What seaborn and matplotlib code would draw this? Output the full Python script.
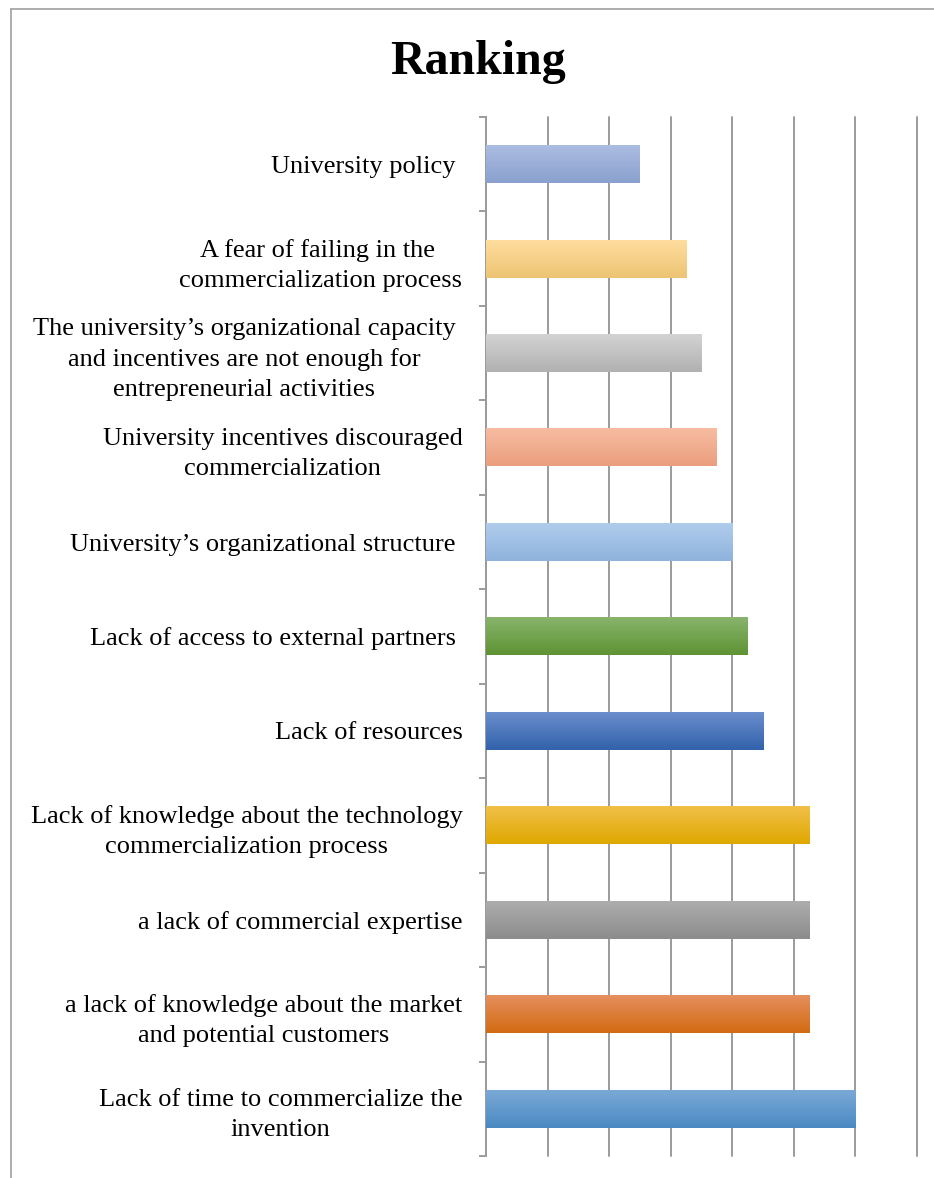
import numpy as np
import pandas as pd
import matplotlib
matplotlib.use("Agg")
import matplotlib.pyplot as plt
from matplotlib.colors import to_rgb
from matplotlib.lines import Line2D
import seaborn as sns

# Barriers to commercialization, listed top to bottom
categories = [
    "University policy ",
    "A fear of failing in the \ncommercialization process",
    "The university\u2019s organizational capacity \nand incentives are not enough for \nentrepreneurial activities ",
    "University incentives discouraged\ncommercialization",
    "University\u2019s organizational structure ",
    "Lack of access to external partners ",
    "Lack of resources",
    "Lack of knowledge about the technology\ncommercialization process",
    "a lack of commercial expertise",
    "a lack of knowledge about the market\nand potential customers",
    "Lack of time to commercialize the\ninvention",
]
scores = [2.5, 3.25, 3.5, 3.75, 4.0, 4.25, 4.5, 5.25, 5.25, 5.25, 6.0]

# (top, bottom) shades of each bar's vertical gradient
top_colors = ["#ACBDE2", "#FFDD9E", "#D3D3D3", "#F7BCA2", "#B0CCEC",
              "#88B46C", "#6B8ECC", "#F0C048", "#ADADAD", "#E5905E", "#7AA9D6"]
bottom_colors = ["#8AA0CE", "#EDC474", "#B1B1B1", "#EA9E7E", "#8FB3DD",
                 "#5E9334", "#3262AB", "#DFA800", "#8C8C8C", "#D26A12", "#4A89C2"]
mid_colors = ["#9DB0DA", "#FBD68A", "#C6C6C6", "#F4AF92", "#A3C2E6",
              "#70A845", "#4076C2", "#F0BC00", "#A2A2A2", "#E07B24", "#5C9BD5"]

df = pd.DataFrame({"category": categories, "score": scores})

sns.set_theme(style="white")
plt.rcParams["font.family"] = ["Liberation Serif", "DejaVu Serif"]
plt.rcParams["text.color"] = "black"
plt.rcParams["ytick.labelcolor"] = "black"

W, H = 934, 1178
fig = plt.figure(figsize=(W / 100, H / 100), dpi=100)
ax = fig.add_axes([486 / W, 1 - 1156 / H, (917 - 486) / W, (1156 - 117) / H])

sns.barplot(data=df, x="score", y="category", hue="category",
            palette=mid_colors, width=0.4, legend=False, ax=ax,
            orient="h", saturation=1)

# vertical gradient fill for every bar
for patch, c_top, c_bot in zip(ax.patches, top_colors, bottom_colors):
    x0 = patch.get_x()
    w = patch.get_width()
    y0 = patch.get_y()
    h = patch.get_height()
    t = np.linspace(0, 1, 64)[:, None]
    grad = (1 - t) * np.array(to_rgb(c_top)) + t * np.array(to_rgb(c_bot))
    grad = grad[:, None, :].repeat(2, axis=1)
    ax.imshow(grad, extent=(x0, x0 + w, y0 + h, y0), origin="upper",
              aspect="auto", zorder=3, interpolation="bilinear")
    patch.set_alpha(0)

ax.set_xlim(0, 7)
ax.set_ylim(len(categories) - 0.5, -0.5)
ax.set_xticks(np.arange(0, 8))
ax.set_xticklabels([])
ax.tick_params(axis="x", length=0)
ax.grid(axis="x", color="#9B9B9B", linewidth=1.4, zorder=0)
for gl in ax.get_xgridlines():
    gl.set_clip_on(False)
ax.set_axisbelow(True)

ax.set_yticks(np.arange(len(categories)))
ax.set_yticklabels(categories, fontsize=19, multialignment="center",
                   linespacing=1.47, color="black")
ax.tick_params(axis="y", which="major", length=0, pad=17)
ax.set_yticks(np.arange(-0.5, len(categories)), minor=True)
ax.tick_params(axis="y", which="minor", length=5, width=1.4,
               color="#9B9B9B", direction="out", left=True)
ax.set_xlabel("")
ax.set_ylabel("")

for side in ["top", "right", "bottom"]:
    ax.spines[side].set_visible(False)
ax.spines["left"].set_color("#9B9B9B")
ax.spines["left"].set_linewidth(1.4)

# outer chart frame
fig.add_artist(Line2D([11 / W, 11 / W], [0, 1 - 8.5 / H],
                      transform=fig.transFigure, color="#A0A0A0", lw=1.2))
fig.add_artist(Line2D([11 / W, 1], [1 - 8.5 / H, 1 - 8.5 / H],
                      transform=fig.transFigure, color="#A0A0A0", lw=1.2))

fig.text(478 / W, 1 - 74 / H, "Ranking", ha="center", va="baseline",
         fontsize=34.5, fontweight="bold", color="black")

fig.savefig("out.png", dpi=100)
